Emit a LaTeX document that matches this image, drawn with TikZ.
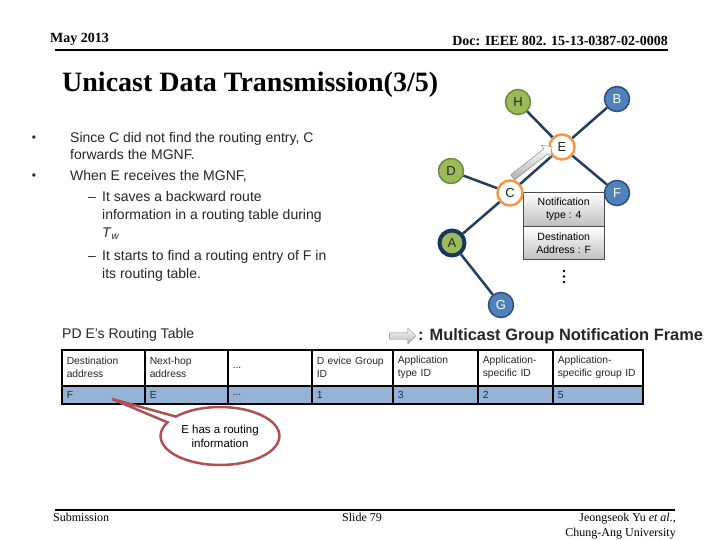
\documentclass[tikz,border=0pt]{standalone}
\usepackage{fontspec}
\setmainfont{Liberation Serif}
\setsansfont{Liberation Sans}
\usetikzlibrary{arrows,positioning,calc,shapes.arrows,shapes.callouts}
\definecolor{leafgreen}{RGB}{155,187,89}
\definecolor{leafline}{RGB}{113,137,63}
\definecolor{nodeblue}{RGB}{79,129,189}
\definecolor{blueline}{RGB}{44,77,117}
\definecolor{relayorange}{RGB}{247,150,70}
\definecolor{navyring}{RGB}{23,55,94}
\definecolor{linkblue}{RGB}{36,62,94}
\definecolor{rowblue}{RGB}{149,179,215}
\definecolor{calloutred}{RGB}{175,80,82}
\tikzset{
    %Define standard arrow tip
    >=stealth',
    %Define style for graph nodes
    greennode/.style={
           circle,
           draw=leafline, line width=1.5pt,
           fill=leafgreen,
           minimum size=25pt,
           inner sep=0pt,
           font=\sffamily\fontsize{13}{15}\selectfont,
           text=black!85},
    bluenode/.style={
           greennode,
           draw=blueline,
           fill=nodeblue,
           text=white},
    relaynode/.style={
           greennode,
           draw=relayorange, line width=2.5pt,
           fill=white},
    sourcenode/.style={
           greennode,
           draw=navyring, line width=4pt},
    % Define link style
    link/.style={
           draw=linkblue,
           line width=2.5pt},
    framearrow/.style={
           single arrow,
           draw=black!50,
           top color=white, bottom color=black!30,
           inner sep=3pt,
           single arrow head extend=4.5pt,
           minimum width=0pt},
    framecell/.style={
           rectangle,
           draw=black!70,
           top color=white, bottom color=black!25,
           minimum width=81pt,
           align=center,
           font=\sffamily\fontsize{10.5}{12.5}\selectfont},
    % Define style for the table
    headcell/.style={
           rectangle,
           draw=black, line width=1.5pt,
           fill=white,
           anchor=north west,
           minimum height=36pt,
           inner xsep=5pt,
           align=left,
           text=black!85,
           font=\sffamily\fontsize{10.3}{13}\selectfont},
    datacell/.style={
           headcell,
           fill=rowblue,
           minimum height=18pt},
    bodytext/.style={
           anchor=base west,
           inner sep=0pt,
           text=black!85,
           font=\sffamily\fontsize{14}{16}\selectfont},
    bulletmark/.style={
           anchor=base,
           inner sep=0pt,
           text=black!85,
           font=\sffamily\fontsize{12}{12}\selectfont},
    pagetext/.style={
           inner sep=0pt,
           font=\fontsize{12}{14}\selectfont},
    infocallout/.style={
           ellipse callout,
           draw=calloutred, line width=2.5pt,
           fill=white,
           minimum width=104pt,
           minimum height=58pt,
           callout pointer arc=14,
           align=center,
           font=\sffamily\fontsize{11.5}{14}\selectfont}
}

\begin{document}
\begin{tikzpicture}[x=1pt,y=-1pt]
\useasboundingbox[fill=white] (0,0) rectangle (720,540);

 %page header and footer
\node[pagetext, anchor=base west, font=\bfseries\fontsize{14}{16}\selectfont] (date) at (50,43) {May 2013};
\node[pagetext, anchor=base east, font=\bfseries\fontsize{14}{16}\selectfont] (doc) at (668,46) {Doc: IEEE 802. 15-13-0387-02-0008};
\coordinate (hl) at (55,50);
\coordinate (hr) at (668,50);
\draw[line width=2.5pt] (hl) -- (hr);
\coordinate (fl) at (55,510);
\coordinate (fr) at (675,510);
\draw[line width=2.5pt] (fl) -- (fr);
\node[pagetext, anchor=base west] (sub) at (53,521) {Submission};
\node[pagetext, anchor=base west] (slide) at (342,521) {Slide 79};
\node[pagetext, anchor=base east] (auth) at (676,521) {Jeongseok Yu \textit{et al.},};
\node[pagetext, anchor=base east] (univ) at (676,536) {Chung-Ang University};

 %title
\node[pagetext, anchor=base west, font=\bfseries\fontsize{28}{30}\selectfont] (title) at (62,92) {Unicast Data Transmission(3/5)};

 %bullets
\node[bulletmark] (m1) at (34,142) {\textbullet};
\node[bodytext] (l1) at (70,143) {Since C did not find the routing entry, C};
\node[bodytext] (l2) at (70,160) {forwards the MGNF.};
\node[bulletmark] (m2) at (34,180) {\textbullet};
\node[bodytext] (l3) at (70,181) {When E receives the MGNF,};
\node[bodytext] (d1) at (88,202) {--};
\node[bodytext] (l4) at (102,202) {It saves a backward route};
\node[bodytext] (l5) at (102,220) {information in a routing table during};
\node[bodytext] (l6) at (102,237) {\textit{T}\textsubscript{\textit{w}}};
\node[bodytext] (d2) at (88,260) {--};
\node[bodytext] (l7) at (102,260) {It starts to find a routing entry of F in};
\node[bodytext] (l8) at (102,278) {its routing table.};

 %frame carried by C
\node[framecell, anchor=north west, minimum height=34pt] (ntype) at (523,192) {Notification\\type : 4};
\node[framecell, below=0pt of ntype, minimum height=33pt] (naddr) {Destination\\Address : F};
\fill (564,271) circle (1.4) (564,276.5) circle (1.4) (564,282) circle (1.4);

 %nodes
\node[greennode] (H) at (518,102) {H};
\node[bluenode] (B) at (617,99) {B};
\node[relaynode] (E) at (562,147) {E};
\node[greennode] (D) at (451,171) {D};
\node[relaynode] (C) at (510,193) {C};
\node[bluenode] (F) at (617,193) {F};
\node[sourcenode] (A) at (452,243) {A};
\node[bluenode] (G) at (501,305) {G};

\path[link]
    (E) edge (H)
        edge (B)
        edge (F)
        edge (C)
    (C) edge (D)
        edge (A)
    (A) edge (G);

\node[framearrow, minimum height=50pt, rotate=38] (mgnf) at ($(C)!0.5!(E)+(-5,-7)$) {};

 %legend
\node[framearrow, minimum height=26pt] (legarrow) at (401,336) {};
\node[bodytext, anchor=west, font=\sffamily\bfseries\fontsize{16.4}{18}\selectfont, right=2pt of legarrow] (legtext) {: Multicast Group Notification Frame};
\node[bodytext] (tabtitle) at (62,338) {PD E's Routing Table};

 %routing table
\node[headcell, text width=73pt] (h1) at (61,349) {Destination\\address};
\node[headcell, text width=73pt] (h2) at (144,349) {Next-hop\\address};
\node[headcell, text width=74pt] (h3) at (227,349) {...};
\node[headcell, text width=71pt] (h4) at (311,349) {D evice Group\\ID};
\node[headcell, text width=75pt] (h5) at (392,349) {Application\\type ID};
\node[headcell, text width=65pt] (h6) at (477,349) {Application-\\specific ID};
\node[headcell, text width=80pt] (h7) at (552,349) {Application-\\specific group ID};
\node[datacell, text width=73pt] (r1) at (61,385) {F};
\node[datacell, text width=73pt] (r2) at (144,385) {E};
\node[datacell, text width=74pt] (r3) at (227,385) {...};
\node[datacell, text width=71pt] (r4) at (311,385) {1};
\node[datacell, text width=75pt] (r5) at (392,385) {3};
\node[datacell, text width=65pt] (r6) at (477,385) {2};
\node[datacell, text width=80pt] (r7) at (552,385) {5};

 %note on the entry
\coordinate (ptF) at (112,399);
\node[infocallout, callout absolute pointer={(ptF)}] (note) at (220,436) {E has a routing\\information};

\end{tikzpicture}
\end{document}
